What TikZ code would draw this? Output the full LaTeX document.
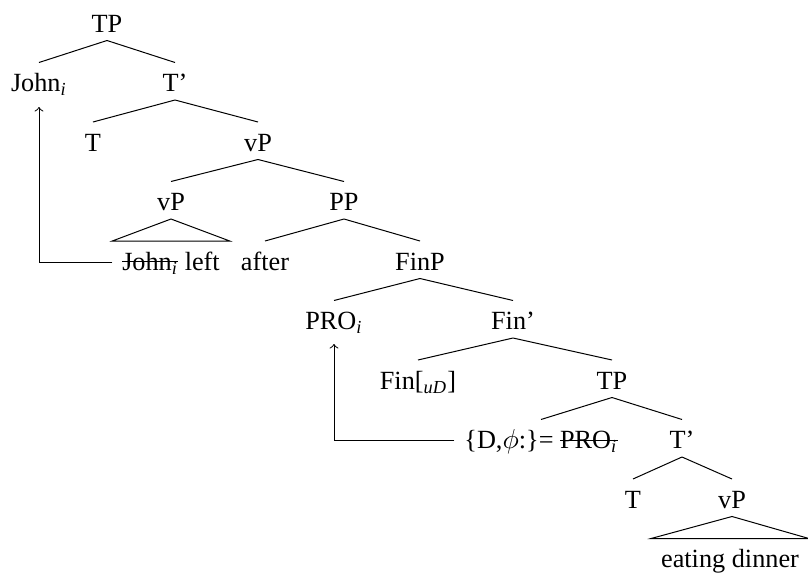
\documentclass[tikz,border=0pt]{standalone}
\usepackage{fontspec}
\setmainfont{Liberation Serif}
\usepackage{tikz}

\newsavebox{\strkbox}
\newcommand{\struck}[1]{\sbox{\strkbox}{#1}\rlap{\rule[0.3em]{\wd\strkbox}{0.4pt}}\usebox{\strkbox}}
\newcommand{\sbi}{\textsubscript{\textit{i}}}

\begin{document}
\begin{tikzpicture}[x=0.4pt,y=-0.4pt,
    lab/.style={anchor=base,font=\fontsize{10.5}{12}\selectfont,inner xsep=3.8pt,inner ysep=0pt,text height=11.4pt,text depth=3.2pt},
    br/.style={line width=0.4pt},
    mv/.style={->,line width=0.4pt}]
  \useasboundingbox (0,0) rectangle (808,574);
  %(1) TP
  \node[lab] (tp1) at (107,32) {TP};
  \node[lab] (john) at (39,91.5) {John\sbi};
  \node[lab] (tbar1) at (175,91.5) {T'};
  \draw[br] (tp1.south) -- (john.north) (tp1.south) -- (tbar1.north);
  %(2) T'
  \node[lab] (t1) at (93,151) {T};
  \node[lab] (vp1) at (258,151) {vP};
  \draw[br] (tbar1.south) -- (t1.north) (tbar1.south) -- (vp1.north);
  %(3) vP
  \node[lab] (vp2) at (171,210.5) {vP};
  \node[lab] (pp) at (344,210.5) {PP};
  \draw[br] (vp1.south) -- (vp2.north) (vp1.south) -- (pp.north);
  %(4) lower vP and PP
  \node[lab] (left) at (171,270) {\struck{John\sbi} left};
  \draw[br] (left.north west) -- (vp2.south) -- (left.north east) -- cycle;
  \node[lab] (after) at (265,270) {after};
  \node[lab] (finp) at (420,270) {FinP};
  \draw[br] (pp.south) -- (after.north) (pp.south) -- (finp.north);
  %(5) FinP
  \node[lab] (pro) at (334,329.5) {PRO\sbi};
  \node[lab] (finbar) at (513,329.5) {Fin'};
  \draw[br] (finp.south) -- (pro.north) (finp.south) -- (finbar.north);
  %(6) Fin'
  \node[lab] (fin) at (418,389) {Fin[\textsubscript{\textit{uD}}]};
  \node[lab] (tp2) at (612,389) {TP};
  \draw[br] (finbar.south) -- (fin.north) (finbar.south) -- (tp2.north);
  %(7) lower TP
  \node[lab] (dphi) at (541,448.5) {\{D,$\phi$:\}= \struck{PRO\sbi}};
  \node[lab] (tbar2) at (682,448.5) {T'};
  \draw[br] (tp2.south) -- (dphi.north) (tp2.south) -- (tbar2.north);
  %(8) lower T'
  \node[lab] (t2) at (633,508) {T};
  \node[lab] (vp3) at (732,508) {vP};
  \draw[br] (tbar2.south) -- (t2.north) (tbar2.south) -- (vp3.north);
  \node[lab] (eat) at (730,567.5) {eating dinner};
  \draw[br] (eat.north west) -- (vp3.south) -- (eat.north east) -- cycle;
  %(9) movement
  \draw[mv] ([yshift=-0.9pt]left.west) -| ([yshift=-2.8pt]john.south);
  \draw[mv] ([yshift=-0.9pt]dphi.west) -| ([yshift=-2.4pt]pro.south);
\end{tikzpicture}
\end{document}
